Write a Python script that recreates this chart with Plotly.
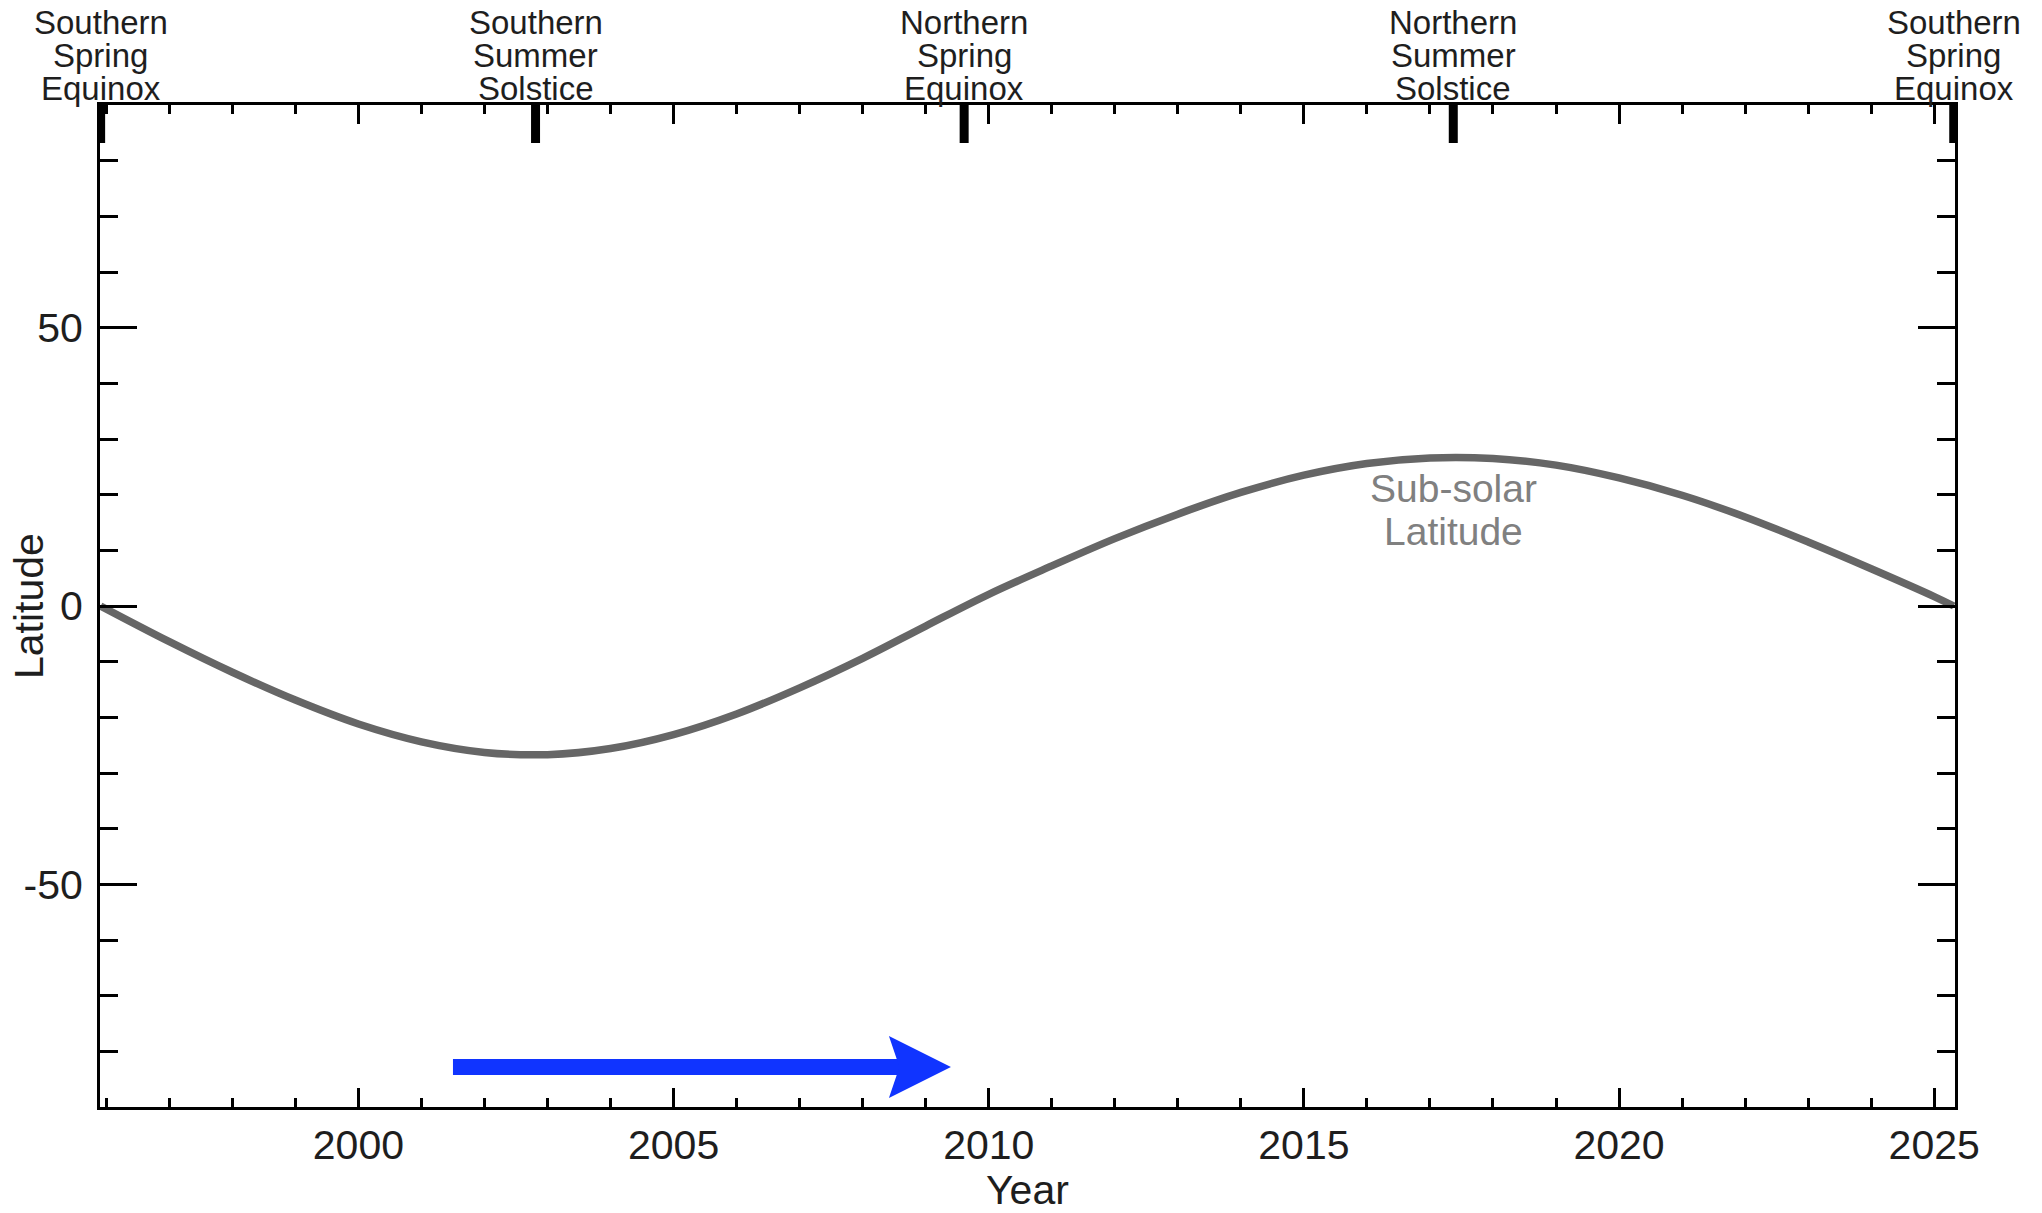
import plotly.graph_objects as go

# Sub-solar latitude over one orbit (year, degrees)
years = [1995.91, 1997, 1998, 1999, 2000, 2001, 2002, 2003, 2004, 2005,
         2006, 2007, 2008, 2009, 2010, 2011, 2012, 2013, 2014,
         2015, 2016, 2017, 2018, 2019, 2020, 2021, 2022, 2023,
         2024, 2025, 2025.31]
latitude = [0.0, -6.4, -11.9, -16.9, -21.2, -24.4, -26.3, -26.7, -25.6, -23.1,
            -19.4, -14.7, -9.4, -3.6, 2.1, 7.2, 12.1, 16.5, 20.4,
            23.5, 25.6, 26.6, 26.5, 25.3, 23.0, 19.9, 16.0, 11.5,
            6.7, 1.7, 0.0]

# Seasonal events marked along the top axis
event_years = [1995.91, 2002.81, 2009.61, 2017.37, 2025.31]
event_labels = [
    ["Southern", "Spring", "Equinox"],
    ["Southern", "Summer", "Solstice"],
    ["Northern", "Spring", "Equinox"],
    ["Northern", "Summer", "Solstice"],
    ["Southern", "Spring", "Equinox"],
]

# Curve label
curve_label_lines = ["Sub-solar", "Latitude"]
curve_label_year = 2017.37
curve_label_lat = [21.1, 13.4]

# Direction arrow
arrow_start_year = 2001.5
arrow_end_year = 2009.4
arrow_lat = -82.8

x_range = [1995.9, 2025.33]
y_range = [-90, 90]
y_tickvals = [-50, 0, 50]
y_ticktext = ["-50", "0", "50"]

W, H = 2042, 1213
margin = dict(l=100, r=87, t=105, b=106)
plot_w = W - margin["l"] - margin["r"]
plot_h = H - margin["t"] - margin["b"]
px_per_year = plot_w / (x_range[1] - x_range[0])

FONT = "Liberation Sans, Arial, Helvetica, sans-serif"
TXT = "#1e1e1e"
BLUE = "#1034ff"

fig = go.Figure()
fig.add_trace(go.Scatter(
    x=years, y=latitude, mode="lines",
    line=dict(color="#666666", width=7.5, shape="spline", smoothing=1.0),
    hoverinfo="skip", showlegend=False,
))

annotations = []
shapes = []

# Thick event markers hanging from the top axis, with stacked labels above
for yr, lines in zip(event_years, event_labels):
    shapes.append(dict(type="line", xref="x", yref="paper",
                       x0=yr, x1=yr, y0=1, y1=1 - 38 / plot_h,
                       line=dict(color="black", width=9), layer="above"))
    for shift, txt in zip([83, 50, 17], lines):
        annotations.append(dict(x=yr, y=1, xref="x", yref="paper", text=txt,
                                showarrow=False, xanchor="center", yanchor="middle",
                                yshift=shift, font=dict(family=FONT, size=33, color=TXT)))

# Curve label
for txt, lat in zip(curve_label_lines, curve_label_lat):
    annotations.append(dict(x=curve_label_year, y=lat, xref="x", yref="y", text=txt,
                            showarrow=False, xanchor="center", yanchor="middle",
                            font=dict(family=FONT, size=39, color="#808080")))

# Axis titles
annotations.append(dict(x=0, y=0.5, xref="paper", yref="paper", text="Latitude",
                        showarrow=False, textangle=-90, xanchor="center", yanchor="middle",
                        xshift=-71, font=dict(family=FONT, size=41, color=TXT)))
annotations.append(dict(x=0.5, y=0, xref="paper", yref="paper", text="Year",
                        showarrow=False, xanchor="center", yanchor="middle",
                        yshift=-83, font=dict(family=FONT, size=41, color=TXT)))

# Arrow: shaft plus a notched head sized in pixels
shaft_end = arrow_end_year - 50 / px_per_year
shapes.append(dict(type="line", xref="x", yref="y",
                   x0=arrow_start_year, x1=shaft_end, y0=arrow_lat, y1=arrow_lat,
                   line=dict(color=BLUE, width=16), layer="above"))
shapes.append(dict(type="path", xref="x", yref="y",
                   xsizemode="pixel", ysizemode="pixel",
                   xanchor=arrow_end_year, yanchor=arrow_lat,
                   path="M0,0 L-62,31 L-51.5,0 L-62,-31 Z",
                   fillcolor=BLUE, line=dict(color=BLUE, width=0), layer="above"))

axis_common = dict(
    showgrid=False, zeroline=False, showline=True, linecolor="black", linewidth=3,
    mirror="ticks", ticks="inside", tickcolor="black", tickwidth=2.5,
    tickfont=dict(family=FONT, size=41, color=TXT),
)

fig.update_layout(
    width=W, height=H, margin=margin,
    paper_bgcolor="white", plot_bgcolor="white",
    xaxis=dict(range=x_range, tick0=2000, dtick=5, ticklen=19,
               minor=dict(dtick=1, tick0=2000, ticklen=9, tickwidth=2.5,
                          tickcolor="black", ticks="inside"),
               ticklabelstandoff=0, **axis_common),
    yaxis=dict(range=y_range, tickvals=y_tickvals, ticktext=y_ticktext, ticklen=37,
               minor=dict(dtick=10, tick0=0, ticklen=18, tickwidth=2.5,
                          tickcolor="black", ticks="inside"),
               ticklabelstandoff=6, **axis_common),
    annotations=annotations, shapes=shapes,
)

fig.write_html("out.html")
